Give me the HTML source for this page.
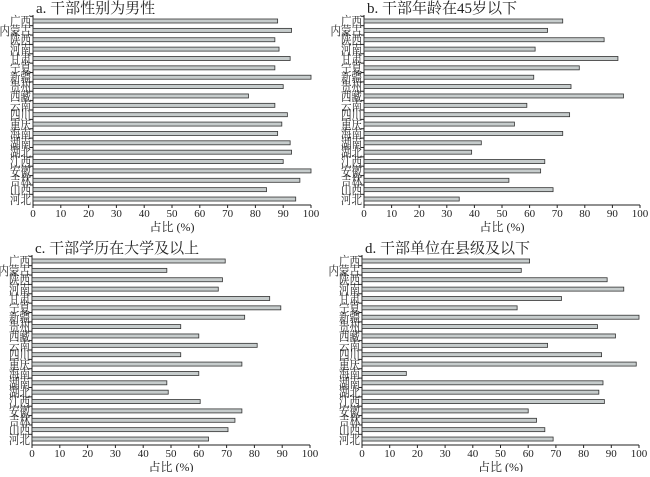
<!DOCTYPE html>
<html><head><meta charset="utf-8"><style>
body{margin:0;background:#fff}
svg text{font-family:"Liberation Serif","Noto Serif CJK SC",serif;fill:#222}
</style></head><body>
<svg id="s" width="650" height="472" xmlns="http://www.w3.org/2000/svg"></svg>
<script>
const names=["广西","内蒙古","陕西","河南","甘肃","宁夏","新疆","贵州","西藏","云南","四川","重庆","海南","湖南","湖北","江西","安徽","吉林","山西","河北"];
const P=[
{t:"a. 干部性别为男性",x0:33,x1:311,y0:15,v:[88,93,87,88.5,92.5,87,100,90,77.5,87,91.5,89.5,88,92.5,93,90,100,96,84,94.5]},
{t:"b. 干部年龄在45岁以下",x0:364,x1:640,y0:15,v:[72,66.5,87,62,92,78,61.5,75,94,59,74.5,54.5,72,42.5,39,65.5,64,52.5,68.5,34.5]},
{t:"c. 干部学历在大学及以上",x0:32,x1:310,y0:255,v:[69.5,48.5,68.5,67,85.5,89.5,76.5,53.5,60,81,53.5,75.5,60,48.5,49,60.5,75.5,73,70.5,63.5]},
{t:"d. 干部单位在县级及以下",x0:362,x1:639,y0:255,v:[60.5,57.5,88.5,94.5,72,56,100,85,91.5,67,86.5,99,16,87,85.5,87.5,60,63,66,69]}];
let h="";
for(const p of P){
 const w=p.x1-p.x0,yb=p.y0+190;
 h+=`<text x="${p.x0+3}" y="${p.y0-2}" font-size="15">${p.t}</text>`;
 h+=`<line x1="${p.x0}" y1="${p.y0}" x2="${p.x0}" y2="${yb}" stroke="#222"/>`;
 h+=`<line x1="${p.x0}" y1="${yb}" x2="${p.x1}" y2="${yb}" stroke="#222"/>`;
 for(let k=0;k<=10;k++){const x=p.x0+w*k/10;
  h+=`<line x1="${x}" y1="${yb}" x2="${x}" y2="${yb+3}" stroke="#222"/>`;
  h+=`<text x="${x}" y="${yb+12}" font-size="11" text-anchor="middle">${k*10}</text>`;}
 h+=`<text x="${p.x0+w/2}" y="${yb+26}" font-size="12" text-anchor="middle">占比 (%)</text>`;
 p.v.forEach((v,i)=>{const c=p.y0+6+i*9.37;
  h+=`<line x1="${p.x0-3}" y1="${c-4.7}" x2="${p.x0}" y2="${c-4.7}" stroke="#222"/>`;
  h+=`<rect x="${p.x0}" y="${c-2}" width="${w*v/100}" height="4" fill="#c6cccc" stroke="#333" stroke-width="0.8"/>`;
  h+=`<text x="${p.x0-2}" y="${c+5}" font-size="13" text-anchor="end" textLength="${names[i].length*10.5}" lengthAdjust="spacingAndGlyphs">${names[i]}</text>`;});
}
document.getElementById("s").innerHTML=h;
</script>
</body></html>
